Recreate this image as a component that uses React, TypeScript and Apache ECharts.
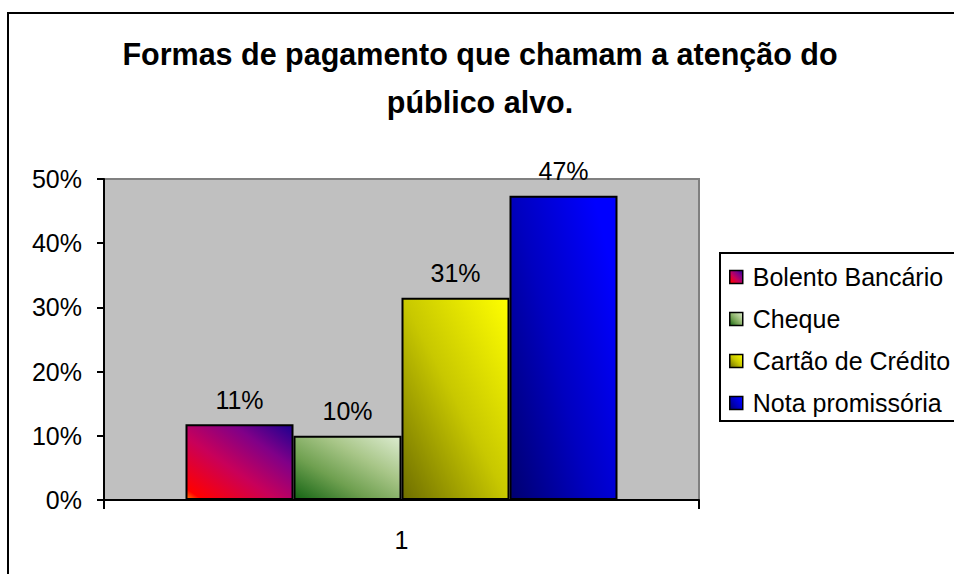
import React, { useEffect, useRef } from "react";
import * as echarts from "echarts";

const titleText = "Formas de pagamento que chamam a atenção do\npúblico alvo.";
const categories = ["1"];
const seriesNames = ["Bolento Bancário", "Cheque", "Cartão de Crédito", "Nota promissória"];
const seriesValues = [0.118, 0.1, 0.315, 0.474];
const valueLabels = ["11%", "10%", "31%", "47%"];
const yTicks = { min: 0, max: 0.5, interval: 0.1 };

const grad = (stops: [number, string][], x2 = 1, y2 = 0) =>
  new echarts.graphic.LinearGradient(0, 1, x2, y2, stops.map(([offset, color]) => ({ offset, color })));

const seriesColors = [
  grad([[0, "#ff7a00"], [0.07, "#ff0000"], [0.42, "#c8005a"], [0.72, "#800088"], [1, "#1c0090"]]),
  grad([[0, "#146414"], [0.35, "#6fa050"], [0.65, "#a8c688"], [1, "#dcebd0"]]),
  grad([[0, "#6e6e00"], [0.5, "#c8c800"], [1, "#ffff00"]]),
  grad([[0, "#000070"], [0.5, "#0000c0"], [1, "#0000ff"]], 1, 0.3),
];

const FONT = "'Liberation Sans', Arial, sans-serif";

export default function App() {
  const ref = useRef<HTMLDivElement>(null);
  useEffect(() => {
    if (!ref.current) return;
    const chart = echarts.init(ref.current, undefined, { renderer: "svg" });
    chart.setOption({
      animation: false,
      backgroundColor: "#ffffff",
      textStyle: { fontFamily: FONT },
      title: {
        text: titleText,
        left: 475,
        top: 25,
        textAlign: "center",
        textStyle: { fontFamily: FONT, fontSize: 30.5, fontWeight: "bold", color: "#000", lineHeight: 48 },
      },
      graphic: [
        {
          type: "rect",
          shape: { x: 8, y: 13, width: 1000, height: 700 },
          style: { fill: "none", stroke: "#000", lineWidth: 2 },
          z: 100,
        },
        {
          type: "rect",
          shape: { x: 720, y: 253, width: 400, height: 168 },
          style: { fill: "#fff", stroke: "#000", lineWidth: 2 },
          z: 0,
        },
      ],
      legend: {
        orient: "vertical",
        left: 729,
        top: 263,
        itemWidth: 13,
        itemHeight: 13,
        itemGap: 14,
        icon: "rect",
        padding: 0,
        itemStyle: { borderColor: "#000", borderWidth: 1.5 },
        textStyle: { fontFamily: FONT, fontSize: 25, color: "#000", lineHeight: 28, padding: [0, 0, 0, 5] },
        data: seriesNames,
        z: 10,
      },
      grid: {
        left: 104,
        right: 255,
        top: 179,
        bottom: 74,
        show: true,
        backgroundColor: "#c0c0c0",
        borderColor: "#808080",
        borderWidth: 2,
      },
      xAxis: {
        type: "category",
        data: categories,
        axisLine: { lineStyle: { color: "#000", width: 2 } },
        axisTick: { show: true, length: 9, lineStyle: { color: "#000", width: 2 } },
        axisLabel: { fontFamily: FONT, fontSize: 25, color: "#000", margin: 27 },
      },
      yAxis: {
        type: "value",
        min: yTicks.min,
        max: yTicks.max,
        interval: yTicks.interval,
        axisLine: { show: true, lineStyle: { color: "#000", width: 2 } },
        axisTick: { show: true, length: 7, lineStyle: { color: "#000", width: 2 } },
        splitLine: { show: false },
        axisLabel: {
          fontFamily: FONT,
          fontSize: 25,
          color: "#000",
          margin: 22,
          formatter: (v: number) => `${Math.round(v * 100)}%`,
        },
      },
      series: seriesNames.map((name, i) => ({
        name,
        type: "bar",
        data: [seriesValues[i]],
        barWidth: 108,
        barGap: "0%",
        itemStyle: { color: seriesColors[i], borderColor: "#000", borderWidth: 2 },
        label: {
          show: true,
          position: "top",
          distance: 12,
          fontFamily: FONT,
          fontSize: 25,
          color: "#000",
          formatter: () => valueLabels[i],
        },
      })),
    });
    return () => chart.dispose();
  }, []);
  return <div ref={ref} style={{ position: "fixed", left: 0, top: 0, width: 954, height: 574 }} />;
}
